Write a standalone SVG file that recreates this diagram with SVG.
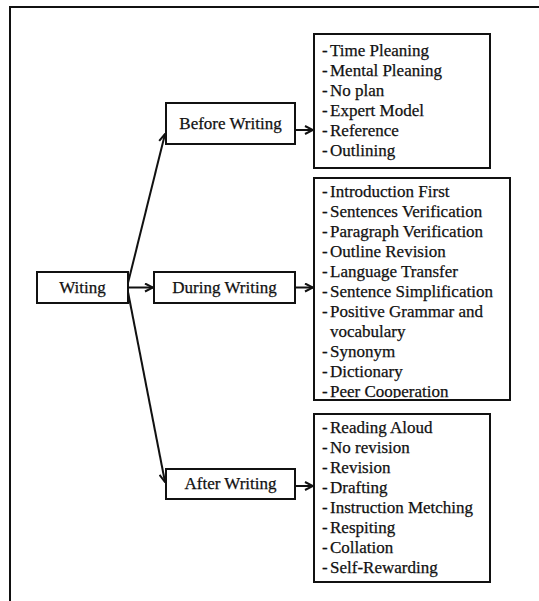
<svg xmlns="http://www.w3.org/2000/svg" width="539" height="601" viewBox="0 0 539 601">
<style>
.box{fill:#fff;stroke:#111;stroke-width:2}
.lbl{font-family:"Liberation Serif","Times New Roman",serif;font-size:17px;fill:#111;stroke:#111;stroke-width:0.25;text-anchor:middle}
.li{font-family:"Liberation Serif","Times New Roman",serif;font-size:17px;fill:#111;stroke:#111;stroke-width:0.25}
.con{stroke:#111;stroke-width:2;fill:none}
</style>
<defs>
<marker id="arr" viewBox="0 0 10 10" refX="9" refY="5" markerWidth="10" markerHeight="10" markerUnits="userSpaceOnUse" orient="auto">
<path d="M1,1 L9,5 L1,9" fill="none" stroke="#111" stroke-width="2"/>
</marker>
<clipPath id="clipDuring"><rect x="314" y="178" width="196" height="220"/></clipPath>
</defs>
<rect width="539" height="601" fill="#fff"/>
<path d="M10,605 L10,7 L545,7" fill="none" stroke="#111" stroke-width="2"/>

<g id="connectors">
<line class="con" x1="128" y1="283" x2="165" y2="134" marker-end="url(#arr)"/>
<line class="con" x1="128" y1="292" x2="165" y2="482" marker-end="url(#arr)"/>
<line class="con" x1="128" y1="287.5" x2="153" y2="287.5" marker-end="url(#arr)"/>
<line class="con" x1="295" y1="130" x2="313" y2="130" marker-end="url(#arr)"/>
<line class="con" x1="295" y1="287.5" x2="313" y2="287.5" marker-end="url(#arr)"/>
<line class="con" x1="295" y1="486" x2="313" y2="486" marker-end="url(#arr)"/>
</g>

<g id="witing">
<rect class="box" x="37" y="272" width="91" height="31"/>
<text class="lbl" x="82.5" y="293">Witing</text>
</g>

<g id="before-writing">
<rect class="box" x="166" y="103" width="129" height="41"/>
<text class="lbl" x="230.5" y="129">Before Writing</text>
</g>

<g id="during-writing">
<rect class="box" x="154" y="272" width="141" height="31"/>
<text class="lbl" x="224.5" y="293">During Writing</text>
</g>

<g id="after-writing">
<rect class="box" x="166" y="469" width="129" height="30"/>
<text class="lbl" x="230.5" y="489">After Writing</text>
</g>

<g id="before-list">
<rect class="box" x="314" y="34" width="176" height="134"/>
<text class="li" x="322" y="56">-<tspan x="330">Time Pleaning</tspan></text>
<text class="li" x="322" y="76">-<tspan x="330">Mental Pleaning</tspan></text>
<text class="li" x="322" y="96">-<tspan x="330">No plan</tspan></text>
<text class="li" x="322" y="116">-<tspan x="330">Expert Model</tspan></text>
<text class="li" x="322" y="136">-<tspan x="330">Reference</tspan></text>
<text class="li" x="322" y="156">-<tspan x="330">Outlining</tspan></text>
</g>

<g id="during-list">
<rect class="box" x="314" y="178" width="196" height="222"/>
<g clip-path="url(#clipDuring)">
<text class="li" x="322" y="197">-<tspan x="330">Introduction First</tspan></text>
<text class="li" x="322" y="217">-<tspan x="330">Sentences Verification</tspan></text>
<text class="li" x="322" y="237">-<tspan x="330">Paragraph Verification</tspan></text>
<text class="li" x="322" y="257">-<tspan x="330">Outline Revision</tspan></text>
<text class="li" x="322" y="277">-<tspan x="330">Language Transfer</tspan></text>
<text class="li" x="322" y="297">-<tspan x="330">Sentence Simplification</tspan></text>
<text class="li" x="322" y="317">-<tspan x="330">Positive Grammar and</tspan></text>
<text class="li" x="330" y="337">vocabulary</text>
<text class="li" x="322" y="357">-<tspan x="330">Synonym</tspan></text>
<text class="li" x="322" y="377">-<tspan x="330">Dictionary</tspan></text>
<text class="li" x="322" y="397">-<tspan x="330">Peer Cooperation</tspan></text>
</g>
</g>

<g id="after-list">
<rect class="box" x="314" y="414" width="176" height="168"/>
<text class="li" x="322" y="433">-<tspan x="330">Reading Aloud</tspan></text>
<text class="li" x="322" y="453">-<tspan x="330">No revision</tspan></text>
<text class="li" x="322" y="473">-<tspan x="330">Revision</tspan></text>
<text class="li" x="322" y="493">-<tspan x="330">Drafting</tspan></text>
<text class="li" x="322" y="513">-<tspan x="330">Instruction Metching</tspan></text>
<text class="li" x="322" y="533">-<tspan x="330">Respiting</tspan></text>
<text class="li" x="322" y="553">-<tspan x="330">Collation</tspan></text>
<text class="li" x="322" y="573">-<tspan x="330">Self-Rewarding</tspan></text>
</g>
</svg>
